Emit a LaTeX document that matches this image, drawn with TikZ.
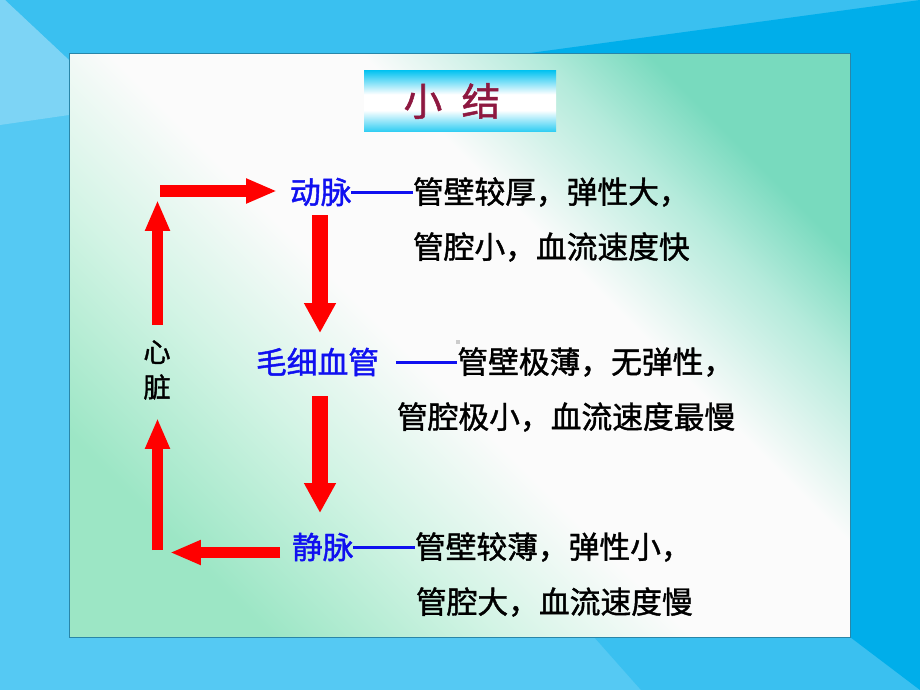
\documentclass[tikz,border=0pt]{standalone}
\usepackage{fontspec}
\setmainfont{Noto Sans CJK SC}[FakeBold=1.3]
\usetikzlibrary{arrows.meta,calc,positioning}
\definecolor{skyblue}{HTML}{3AC0F0}
\definecolor{paleblue}{HTML}{55C9F3}
\definecolor{liteblue}{HTML}{7DD4F5}
\definecolor{deepblue}{HTML}{00AEEA}
\definecolor{greenA}{HTML}{78DABE}
\definecolor{greenB}{HTML}{9CE6C5}
\definecolor{titlecyan}{HTML}{00C2F0}
\definecolor{titlered}{HTML}{8E1840}
\definecolor{wordblue}{HTML}{1010F0}
\pgfdeclareverticalshading{panelshade}{100bp}{color(0bp)=(greenB); color(25bp)=(greenB); color(37bp)=(greenB!45!white); color(47bp)=(white!97!gray); color(60bp)=(white!97!gray); color(69bp)=(greenA!55!white); color(75bp)=(greenA); color(100bp)=(greenA)}
\pgfdeclareverticalshading{titleshade}{100bp}{color(0bp)=(titlecyan!80!white); color(25bp)=(titlecyan!80!white); color(42bp)=(white); color(55bp)=(white); color(75bp)=(titlecyan); color(100bp)=(titlecyan)}
\newcommand{\longdash}{\rule[0.32em]{2em}{0.09em}}

\begin{document}
\begin{tikzpicture}[x=0.02cm,y=-0.02cm]
\tikzstyle{flow}=[red,line width=0.23cm,-{Triangle[length=0.62cm,width=0.46cm]}]
\tikzstyle{flowwide}=[red,line width=0.32cm,-{Triangle[length=0.6cm,width=0.6cm]}]
\tikzstyle{word}=[inner sep=0pt,outer sep=0pt,font=\fontsize{17.5}{21}\selectfont]

\useasboundingbox (0,0) rectangle (920,690);

% BACKGROUND
\fill[paleblue] (0,0) rectangle (920,690);
\fill[skyblue] (5,0) -- (920,0) -- (920,690) -- (641,690) -- (594,637) -- (69,637) -- (69,60) -- cycle;
\fill[liteblue] (0,0) -- (5,0) -- (69,60) -- (69,115) -- (0,125) -- cycle;
\fill[deepblue] (530,53) -- (920,0) -- (920,690) -- (850,637) -- (850,53) -- cycle;

% PANEL
\shade[shading=panelshade,shading angle=-45] (69,53) rectangle (850,637);
\draw[color=skyblue!70!black,line width=0.4pt] (69,53) rectangle (850,637);
\fill[gray!40] (456,340) rectangle (460,344);

% TITLE
\shade[shading=titleshade] (364,70) rectangle (556,131);
\node[inner sep=0pt,text=titlered,font=\fontsize{22}{26}\selectfont] (title) at (452,101) {小\hspace{0.5em}结};

% TEXT LINES
\node[word,text=wordblue,anchor=west] (artery) at (290,192) {动脉\longdash};
\node[word,right=0pt of artery] (artery1) {管壁较厚，弹性大，};
\node[word,anchor=west] (artery2) at (413,247) {管腔小，血流速度快};

\node[word,text=wordblue,anchor=west] (capil) at (256,362) {毛细血管\hspace{0.55em}\longdash};
\node[word,right=0pt of capil] (capil1) {管壁极薄，无弹性，};
\node[word,anchor=west] (capil2) at (397,417) {管腔极小，血流速度最慢};

\node[word,text=wordblue,anchor=west] (vein) at (292,547) {静脉\longdash};
\node[word,right=0pt of vein] (vein1) {管壁较薄，弹性小，};
\node[word,anchor=west] (vein2) at (416,602) {管腔大，血流速度慢};

\node[inner sep=0pt,align=center,font=\fontsize{15.5}{20}\selectfont] (heart) at (157,370) {心\\脏};

% ARROW ENDS
\coordinate (upA) at (157.5,325);
\coordinate (upAend) at (157.5,200);
\coordinate (topA) at (160,191);
\coordinate (topAend) at (277,191);
\coordinate (downA) at (320,215);
\coordinate (downAend) at (320,333);
\coordinate (downB) at (320,396);
\coordinate (downBend) at (320,513);
\coordinate (leftA) at (280,552.5);
\coordinate (leftAend) at (170,552.5);
\coordinate (upB) at (157.5,550);
\coordinate (upBend) at (157.5,418);

% ARROWS
\draw[flow] (upA) -- (upAend);
\draw[flow] (topA) -- (topAend);
\draw[flowwide] (downA) -- (downAend);
\draw[flowwide] (downB) -- (downBend);
\draw[flow] (leftA) -- (leftAend);
\draw[flow] (upB) -- (upBend);

\end{tikzpicture}
\end{document}
